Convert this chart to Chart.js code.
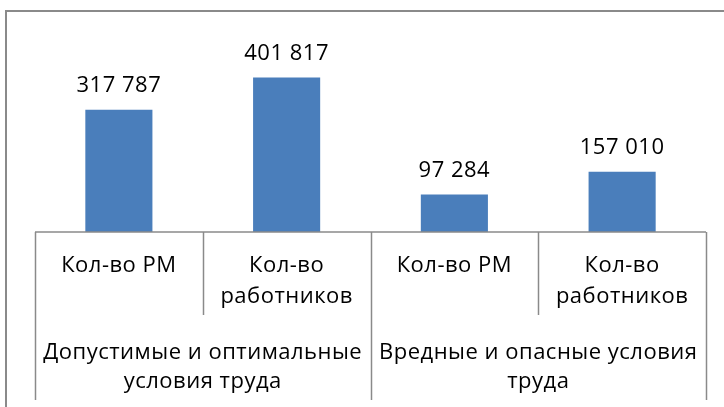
<!DOCTYPE html>
<html>
<head>
<meta charset="utf-8">
<script src="https://cdn.jsdelivr.net/npm/chart.js@4"></script>
<style>
body{margin:0;background:#fff;}
#wrap{width:724px;height:407px;position:relative;}
</style>
</head>
<body>
<div id="wrap"><canvas id="chart"></canvas></div>
<script>
// DATA
const subLabels = [["Кол-во РМ"], ["Кол-во","работников"], ["Кол-во РМ"], ["Кол-во","работников"]];
const groupLabels = [["Допустимые и оптимальные","условия труда"], ["Вредные и опасные условия","труда"]];
const values = [317787, 401817, 97284, 157010];

const FONT = "'Open Sans', sans-serif";
const LINE = "#8a8a8a";

function fmt(v){
  return String(v).replace(/\B(?=(\d{3})+(?!\d))/g," ");
}

// немного разрядки, как в Excel
function spacing(c){
  if("letterSpacing" in c.ctx) c.ctx.letterSpacing = "0.5px";
}

// рамка, оси, подписи значений
const frame = {
  id:"frame",
  beforeLayout(c){ spacing(c); },
  beforeDraw(c){ spacing(c); },
  afterDraw(c){
    let ctx = c.ctx;
    let x = c.scales.x, x2 = c.scales.x2;
    let base = c.chartArea.bottom;
    let per = subLabels.length/groupLabels.length;

    ctx.save();
    ctx.strokeStyle = LINE;
    ctx.lineWidth = 2;
    ctx.beginPath();
    ctx.moveTo(6, c.height); ctx.lineTo(6, 11); ctx.lineTo(c.width, 11);
    ctx.stroke();

    ctx.lineWidth = 1.5;
    ctx.beginPath();
    ctx.moveTo(x.left, base); ctx.lineTo(x.right, base);
    for(let i=0;i<=subLabels.length;i++){
      let px = Math.round(x.getPixelForValue(i-0.5))+0.5;
      let end = i%per===0 ? x2.bottom-4 : x.bottom-16;
      ctx.moveTo(px, base); ctx.lineTo(px, end);
    }
    ctx.stroke();

    ctx.fillStyle = "#000";
    ctx.font = "22px "+FONT;
    ctx.textAlign = "center";
    ctx.textBaseline = "alphabetic";
    c.getDatasetMeta(0).data.forEach((bar,i)=>{
      ctx.fillText(fmt(values[i]), bar.x, bar.y-18);
    });
    ctx.restore();
  }
};

let chart = new Chart(document.getElementById("chart"),{
  type:"bar",
  data:{
    labels:subLabels,
    datasets:[{
      data:values,
      backgroundColor:"#4a7ebb",
      categoryPercentage:1,
      barPercentage:0.4
    }]
  },
  options:{
    responsive:true,
    maintainAspectRatio:false,
    animation:false,
    layout:{padding:{left:35,right:18,top:59,bottom:3}},
    plugins:{legend:{display:false},tooltip:{enabled:false}},
    scales:{
      y:{display:false,min:0,max:450000},
      x:{
        weight:0,
        offset:true,
        grid:{display:false,drawTicks:false,tickLength:0},
        border:{display:false},
        ticks:{autoSkip:false,maxRotation:0,padding:18.5,color:"#000",font:{family:FONT,size:22,lineHeight:31/22}}
      },
      x2:{
        type:"category",
        position:"bottom",
        weight:1,
        labels:groupLabels,
        offset:true,
        grid:{display:false,drawTicks:false,tickLength:0},
        border:{display:false},
        ticks:{autoSkip:false,maxRotation:0,padding:7.5,color:"#000",font:{family:FONT,size:22,lineHeight:29/22}}
      }
    }
  },
  plugins:[frame]
});
</script>
</body>
</html>
